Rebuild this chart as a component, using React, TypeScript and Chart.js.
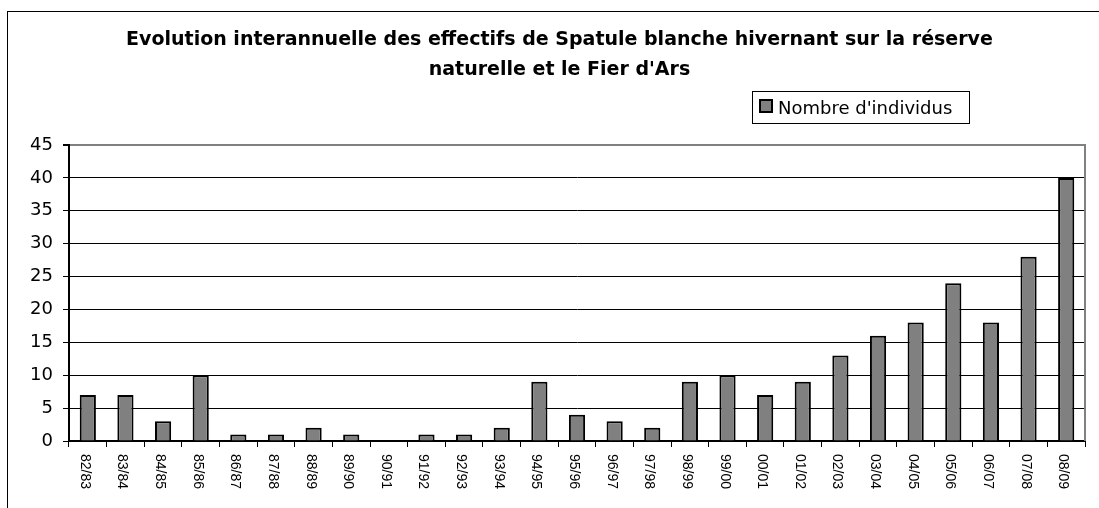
import React, { useEffect, useRef } from "react";
import { Chart, registerables } from "chart.js";

Chart.register(...registerables);

const CATEGORIES = [
  "82/83", "83/84", "84/85", "85/86", "86/87", "87/88", "88/89", "89/90", "90/91",
  "91/92", "92/93", "93/94", "94/95", "95/96", "96/97", "97/98", "98/99", "99/00",
  "00/01", "01/02", "02/03", "03/04", "04/05", "05/06", "06/07", "07/08", "08/09",
];
const VALUES = [7, 7, 3, 10, 1, 1, 2, 1, 0, 1, 1, 2, 9, 4, 3, 2, 9, 10, 7, 9, 13, 16, 18, 24, 18, 28, 40];
const TITLE_LINES = [
  "Evolution interannuelle des effectifs de Spatule blanche hivernant sur la réserve",
  "naturelle et le Fier d'Ars",
];
const SERIES_LABEL = "Nombre d'individus";
const Y_MIN = 0;
const Y_MAX = 45;
const Y_STEP = 5;

const BAR_FILL = "#808080";
const FONT_MAIN = '"DejaVu Sans", sans-serif';
const FONT_XLAB = '"Liberation Sans", Arial, sans-serif';

const decorPlugin = {
  id: "decor",
  afterDraw(chart: any) {
    const ctx = chart.ctx as CanvasRenderingContext2D;
    const ca = chart.chartArea;
    ctx.save();
    // right plot-area border (gray)
    ctx.strokeStyle = "#808080";
    ctx.lineWidth = 2;
    ctx.beginPath();
    ctx.moveTo(ca.right, ca.top - 1);
    ctx.lineTo(ca.right, ca.bottom);
    ctx.stroke();

    // title
    ctx.fillStyle = "#000";
    ctx.font = `bold 19px ${FONT_MAIN}`;
    ctx.textAlign = "center";
    ctx.textBaseline = "alphabetic";
    TITLE_LINES.forEach((t, i) => ctx.fillText(t, chart.width / 2, 33 + i * 30));

    // legend box
    const ds = chart.data.datasets[0];
    ctx.lineWidth = 1;
    ctx.strokeStyle = "#000";
    ctx.strokeRect(744.5, 79.5, 217, 32);
    ctx.fillStyle = ds.backgroundColor;
    ctx.fillRect(751, 87, 14, 14);
    ctx.lineWidth = 2;
    ctx.strokeRect(752, 88, 12, 12);
    ctx.fillStyle = "#000";
    ctx.font = `18px ${FONT_MAIN}`;
    ctx.textAlign = "left";
    ctx.fillText(ds.label, 770, 102);

    // rotated x labels (clockwise)
    const xs = chart.scales.x;
    ctx.font = `14px ${FONT_XLAB}`;
    ctx.textAlign = "left";
    ctx.textBaseline = "alphabetic";
    chart.data.labels.forEach((lab: string, i: number) => {
      const x = xs.getPixelForValue(i);
      ctx.save();
      ctx.translate(x - 7, ca.bottom + 13);
      ctx.rotate(Math.PI / 2);
      ctx.fillText(lab, 0, 0);
      ctx.restore();
    });
    ctx.restore();
  },
};

export default function App() {
  const ref = useRef<HTMLCanvasElement>(null);
  useEffect(() => {
    if (!ref.current) return;
    const chart = new Chart(ref.current, {
      type: "bar",
      data: {
        labels: CATEGORIES,
        datasets: [
          {
            label: SERIES_LABEL,
            data: VALUES,
            backgroundColor: BAR_FILL,
            borderColor: "#000",
            borderWidth: 2,
            barPercentage: 0.43,
            categoryPercentage: 1,
          },
        ],
      },
      options: {
        responsive: false,
        animation: false,
        devicePixelRatio: 1,
        layout: { padding: { top: 133, left: 0, right: 26, bottom: 0 } },
        plugins: {
          legend: { display: false },
          title: { display: false },
          tooltip: { enabled: false },
        },
        scales: {
          x: {
            type: "category",
            offset: true,
            grid: {
              display: true,
              drawOnChartArea: false,
              drawTicks: true,
              tickLength: 6,
              color: "#000",
              tickColor: "#000",
              lineWidth: 1,
              offset: true,
            },
            border: { display: true, color: "#000", width: 2 },
            ticks: { display: false },
            afterFit: (s: any) => {
              s.height = 91;
            },
          },
          y: {
            min: Y_MIN,
            max: Y_MAX,
            ticks: {
              stepSize: Y_STEP,
              color: "#000",
              font: { family: FONT_MAIN, size: 18 },
              padding: 10,
            },
            grid: {
              color: (c: any) => (c.tick && c.tick.value === Y_MAX ? "#808080" : "#000"),
              lineWidth: (c: any) => (c.tick && c.tick.value === Y_MAX ? 2 : 1),
              tickColor: "#000",
              tickLength: 6,
              drawTicks: true,
            },
            border: { display: true, color: "#000", width: 2 },
            afterFit: (s: any) => {
              s.width = 61;
            },
          },
        },
      },
      plugins: [decorPlugin],
    });
    return () => chart.destroy();
  }, []);

  return (
    <div style={{ position: "fixed", inset: 0, overflow: "hidden", background: "#fff" }}>
      <div
        style={{
          position: "absolute",
          left: 7,
          top: 11,
          width: 1103,
          height: 520,
          border: "1px solid #000",
        }}
      >
        <canvas ref={ref} width={1103} height={520} style={{ display: "block" }} />
      </div>
    </div>
  );
}
